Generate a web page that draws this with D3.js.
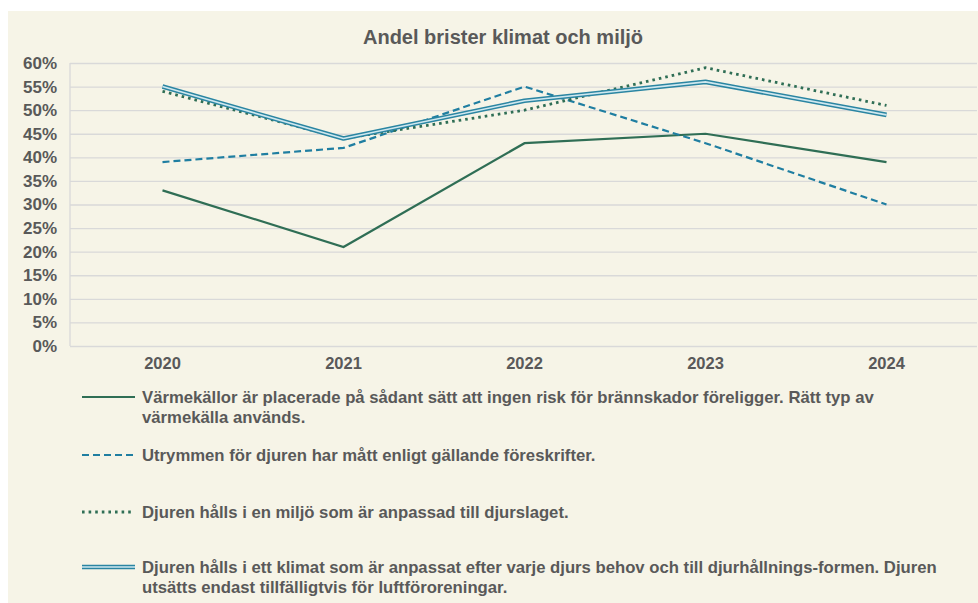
<!DOCTYPE html>
<html>
<head>
<meta charset="utf-8">
<script src="https://cdn.jsdelivr.net/npm/d3@7"></script>
<style>
  html, body { margin: 0; padding: 0; background: #ffffff; }
  svg { display: block; }
  text { font-family: "Liberation Sans", Arial, sans-serif; font-weight: bold; fill: #595959; }
</style>
</head>
<body>
<svg id="chart" width="978" height="603"></svg>
<script>
const title = "Andel brister klimat och miljö";
const years = ["2020", "2021", "2022", "2023", "2024"];
const yTicks = [0, 5, 10, 15, 20, 25, 30, 35, 40, 45, 50, 55, 60];
const seriesVarme = [33, 21, 43, 45, 39];
const seriesUtrymme = [39, 42, 55, 43, 30];
const seriesMiljo = [54, 44, 50, 59, 51];
const seriesKlimat = [55, 44, 52, 56, 49];
const labelVarme = ["Värmekällor är placerade på sådant sätt att ingen risk för brännskador föreligger. Rätt typ av", "värmekälla används."];
const labelUtrymme = ["Utrymmen för djuren har mått enligt gällande föreskrifter."];
const labelMiljo = ["Djuren hålls i en miljö som är anpassad till djurslaget."];
const labelKlimat = ["Djuren hålls i ett klimat som är anpassat efter varje djurs behov och till djurhållnings-formen. Djuren", "utsätts endast tillfälligtvis för luftföroreningar."];

const series = [
  { values: seriesVarme, label: labelVarme, style: "solid", legendY: 397 },
  { values: seriesUtrymme, label: labelUtrymme, style: "dashed", legendY: 455 },
  { values: seriesMiljo, label: labelMiljo, style: "dotted", legendY: 512 },
  { values: seriesKlimat, label: labelKlimat, style: "double", legendY: 567 }
];

const svg = d3.select("#chart");
svg.append("rect").attr("x", 8).attr("y", 11).attr("width", 970).attr("height", 592).attr("fill", "#f6f4e7");

svg.append("text").attr("x", 503).attr("y", 44).attr("text-anchor", "middle")
  .style("font-size", "20px").text(title);

const plotLeft = 72, plotRight = 977, plotTop = 63, plotBottom = 346;
const x = d3.scaleBand().domain(years).range([plotLeft, plotRight]);
const y = d3.scaleLinear().domain([0, 60]).range([plotBottom, plotTop]);
const cx = d => x(d) + x.bandwidth() / 2;

const yAxis = svg.append("g").attr("transform", `translate(${plotLeft - 2},0)`)
  .call(d3.axisLeft(y).tickValues(yTicks).tickSize(-(plotRight - plotLeft + 2)).tickPadding(13).tickFormat(d => d + "%"));
yAxis.select(".domain").remove();
yAxis.selectAll(".tick line").attr("stroke", "#d9d9d9").attr("stroke-width", 1.3);
yAxis.selectAll(".tick text").style("font-size", "17px").attr("fill", "#595959");

svg.append("line").attr("x1", plotLeft - 2).attr("x2", plotLeft - 2).attr("y1", plotTop).attr("y2", plotBottom)
  .attr("stroke", "#d9d9d9").attr("stroke-width", 1.3);

const xAxis = svg.append("g").attr("transform", `translate(0,${plotBottom})`)
  .call(d3.axisBottom(x).tickSize(0).tickPadding(11));
xAxis.select(".domain").remove();
xAxis.selectAll(".tick text").style("font-size", "16.5px").attr("fill", "#595959");

const line = d3.line().x((d, i) => cx(years[i])).y(d => y(d));

function drawStyled(g, pathData, style) {
  if (style === "solid") {
    g.append("path").attr("d", pathData).attr("fill", "none").attr("stroke", "#2f6e55").attr("stroke-width", 2.2);
  } else if (style === "dashed") {
    g.append("path").attr("d", pathData).attr("fill", "none").attr("stroke", "#1f7ea1").attr("stroke-width", 2.2)
      .attr("stroke-dasharray", "7,4");
  } else if (style === "dotted") {
    g.append("path").attr("d", pathData).attr("fill", "none").attr("stroke", "#2f6e55").attr("stroke-width", 2.8)
      .attr("stroke-dasharray", "2.6,4");
  } else if (style === "double") {
    g.append("path").attr("d", pathData).attr("fill", "none").attr("stroke", "#2a85a2").attr("stroke-width", 4.6)
      .attr("stroke-linejoin", "round");
    g.append("path").attr("d", pathData).attr("fill", "none").attr("stroke", "#cfe8ef").attr("stroke-width", 1.6)
      .attr("stroke-linejoin", "round");
  }
}

const plotG = svg.append("g");
series.forEach(s => drawStyled(plotG, line(s.values), s.style));

const legendG = svg.append("g");
series.forEach(s => {
  const sampleX2 = s.style === "dotted" ? 131 : 135;
  drawStyled(legendG, `M82,${s.legendY}L${sampleX2},${s.legendY}`, s.style);
  s.label.forEach((t, i) => {
    legendG.append("text").attr("x", 142).attr("y", s.legendY + 6 + i * 20)
      .style("font-size", "16.7px").text(t);
  });
});
</script>
</body>
</html>
